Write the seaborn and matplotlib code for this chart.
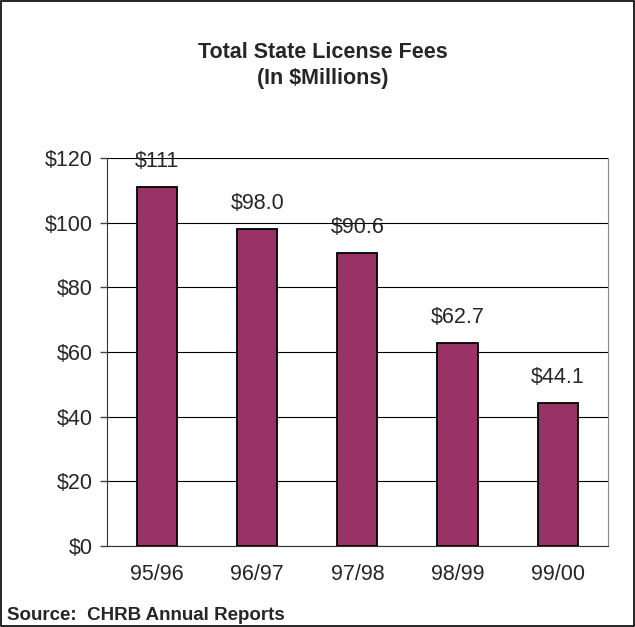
import matplotlib
matplotlib.use('Agg')
import matplotlib.pyplot as plt
import seaborn as sns
import pandas as pd
from matplotlib.patches import Rectangle

# data
years = ['95/96', '96/97', '97/98', '98/99', '99/00']
fees = [111, 98.0, 90.6, 62.7, 44.1]
fee_labels = ['$111', '$98.0', '$90.6', '$62.7', '$44.1']
yticks = [0, 20, 40, 60, 80, 100, 120]

sns.set_style('white')
plt.rcParams['font.family'] = ['Liberation Sans', 'DejaVu Sans']

df = pd.DataFrame({'year': years, 'fees': fees})

fig = plt.figure(figsize=(6.35, 6.27), dpi=100)
ax = fig.add_axes([0.1685, 0.129, 0.7885, 0.619])

sns.barplot(data=df, x='year', y='fees', color='#993366', saturation=1,
            width=0.4, edgecolor='black', linewidth=1.3, ax=ax, zorder=3)

ax.set_ylim(0, 120)
ax.set_xlim(-0.5, len(years) - 0.5)
ax.set_yticks(yticks)
ax.set_yticklabels(['$' + str(t) for t in yticks], fontsize=15.5)
ax.tick_params(axis='x', labelsize=15.5, pad=13)
ax.set_xlabel('')
ax.set_ylabel('')
ax.grid(axis='y', color='black', linewidth=0.8, zorder=0)

# ticks on category boundaries like the original
ax.set_xticks([i - 0.5 for i in range(len(years) + 1)], minor=True)
ax.tick_params(axis='x', which='minor', length=5, width=1, color='#444444', direction='out')
ax.tick_params(axis='x', which='major', length=0)
ax.tick_params(axis='y', length=5, width=1, color='#444444', direction='out', left=True, pad=5)

ax.spines['top'].set_visible(False)
ax.spines['right'].set_color('#888888')
ax.spines['left'].set_color('#333333')
ax.spines['bottom'].set_color('#333333')

for i, (v, lab) in enumerate(zip(fees, fee_labels)):
    ax.annotate(lab, (i, v), xytext=(0, 18.5), textcoords='offset points',
                ha='center', va='center', fontsize=15.5, zorder=4)

fig.text(0.509, 0.917, 'Total State License Fees', ha='center', va='center',
         fontsize=15.5, fontweight='bold')
fig.text(0.509, 0.875, '(In $Millions)', ha='center', va='center',
         fontsize=15.5, fontweight='bold')
fig.text(0.011, 0.019, 'Source:  CHRB Annual Reports', ha='left', va='center',
         fontsize=13.5, fontweight='bold')

fig.patches.append(Rectangle((0.002, 0.002), 0.996, 0.996, transform=fig.transFigure,
                             fill=False, edgecolor='black', linewidth=1.2))

fig.savefig('out.png', dpi=100)
